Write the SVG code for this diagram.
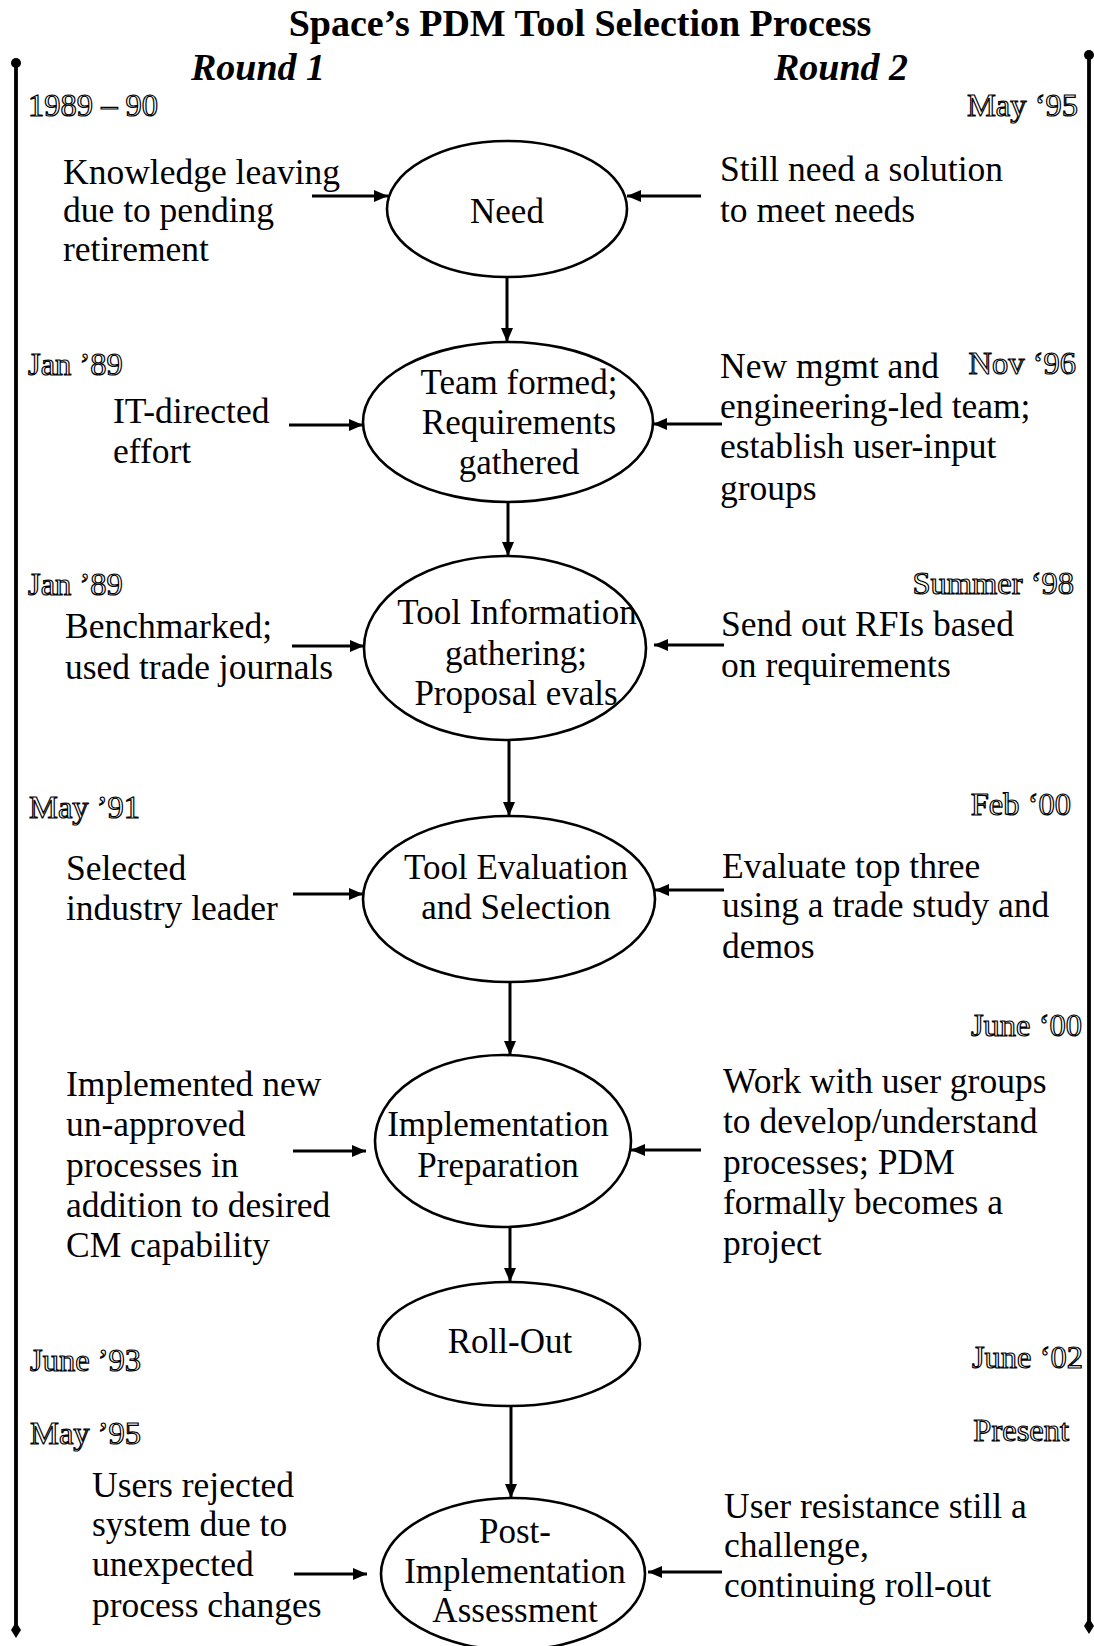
<svg xmlns="http://www.w3.org/2000/svg" width="1094" height="1646" viewBox="0 0 1094 1646">
  <style>
    .t { font-family: "Liberation Serif", "Times New Roman", serif; font-size: 35.5px; fill: #000; }
    .n { font-family: "Liberation Serif", "Times New Roman", serif; font-size: 35px; fill: #000; text-anchor: middle; }
    .title { font-family: "Liberation Serif", "Times New Roman", serif; font-size: 38px; font-weight: bold; text-anchor: middle; }
    .round { font-family: "Liberation Serif", "Times New Roman", serif; font-size: 38px; font-weight: bold; font-style: italic; }
    .date { font-family: "Liberation Serif", "Times New Roman", serif; font-size: 32.5px; fill: #fff; stroke: #000; stroke-width: 1.2; }
    .end { text-anchor: end; }
    .node { fill: #fff; stroke: #000; stroke-width: 2.6; }
    .arrow { fill: none; stroke: #000; stroke-width: 3; marker-end: url(#head); }
    .timeline { stroke: #000; stroke-width: 3.8; fill: none; }
  </style>
  <defs>
    <marker id="head" markerUnits="userSpaceOnUse" viewBox="0 0 14 12" refX="14" refY="6" markerWidth="14" markerHeight="12" orient="auto">
      <path d="M0,0 L14,6 L0,12 z" fill="#000"/>
    </marker>
  </defs>

  <rect width="1094" height="1646" fill="#fff"/>

  <!-- heading -->
  <text class="title" x="580" y="36">Space’s PDM Tool Selection Process</text>
  <text class="round" x="191" y="80">Round 1</text>
  <text class="round" x="774" y="80">Round 2</text>

  <!-- timelines for both rounds -->
  <g id="timelines">
    <line class="timeline" x1="16" y1="63" x2="16" y2="1630"/>
    <circle cx="16" cy="63" r="5"/>
    <path d="M16,1622 L21,1630 L16,1638 L11,1630 z"/>
    <line class="timeline" x1="1089" y1="55" x2="1089" y2="1626"/>
    <circle cx="1089" cy="55" r="5"/>
    <path d="M1089,1618 L1094,1626 L1089,1634 L1084,1626 z"/>
  </g>

  <!-- dates, round 1 -->
  <g id="dates-round1">
    <text class="date" x="28" y="116">1989 – 90</text>
    <text class="date" x="28" y="375">Jan ’89</text>
    <text class="date" x="28" y="595">Jan ’89</text>
    <text class="date" x="29" y="818">May ’91</text>
    <text class="date" x="30" y="1371">June ’93</text>
    <text class="date" x="30" y="1444">May ’95</text>
  </g>

  <!-- dates, round 2 -->
  <g id="dates-round2">
    <text class="date end" x="1078" y="116">May ‘95</text>
    <text class="date end" x="1076" y="374">Nov ‘96</text>
    <text class="date end" x="1074" y="594">Summer ‘98</text>
    <text class="date end" x="1071" y="815">Feb ‘00</text>
    <text class="date end" x="1082" y="1036">June ‘00</text>
    <text class="date end" x="1083" y="1368">June ‘02</text>
    <text class="date end" x="1069" y="1441">Present</text>
  </g>

  <!-- process steps -->
  <g id="node-need">
    <ellipse class="node" cx="507" cy="209" rx="120" ry="68"/>
    <text class="n" x="507" y="223">Need</text>
  </g>
  <g id="node-team">
    <ellipse class="node" cx="508" cy="422" rx="145" ry="80"/>
    <text class="n" x="519" y="394">Team formed;</text>
    <text class="n" x="519" y="434">Requirements</text>
    <text class="n" x="519" y="474">gathered</text>
  </g>
  <g id="node-info">
    <ellipse class="node" cx="505" cy="648" rx="141" ry="92"/>
    <text class="n" x="517" y="624">Tool Information</text>
    <text class="n" x="516" y="665">gathering;</text>
    <text class="n" x="516" y="705">Proposal evals</text>
  </g>
  <g id="node-eval">
    <ellipse class="node" cx="509" cy="899" rx="146" ry="83"/>
    <text class="n" x="516" y="879">Tool Evaluation</text>
    <text class="n" x="516" y="919">and Selection</text>
  </g>
  <g id="node-prep">
    <ellipse class="node" cx="503" cy="1141" rx="128" ry="86"/>
    <text class="n" x="498" y="1136">Implementation</text>
    <text class="n" x="498" y="1177">Preparation</text>
  </g>
  <g id="node-rollout">
    <ellipse class="node" cx="509" cy="1344" rx="131" ry="62"/>
    <text class="n" x="510" y="1353">Roll-Out</text>
  </g>
  <g id="node-post">
    <ellipse class="node" cx="513" cy="1574" rx="132" ry="76"/>
    <text class="n" x="515" y="1543">Post-</text>
    <text class="n" x="515" y="1583">Implementation</text>
    <text class="n" x="515" y="1622">Assessment</text>
  </g>

  <!-- round 1 inputs -->
  <g id="notes-round1">
    <text class="t" x="63" y="184">Knowledge leaving</text>
    <text class="t" x="63" y="222">due to pending</text>
    <text class="t" x="63" y="261">retirement</text>
    <text class="t" x="113" y="423">IT-directed</text>
    <text class="t" x="113" y="463">effort</text>
    <text class="t" x="65" y="638">Benchmarked;</text>
    <text class="t" x="65" y="679">used trade journals</text>
    <text class="t" x="66" y="880">Selected</text>
    <text class="t" x="66" y="920">industry leader</text>
    <text class="t" x="66" y="1096">Implemented new</text>
    <text class="t" x="66" y="1136">un-approved</text>
    <text class="t" x="66" y="1177">processes in</text>
    <text class="t" x="66" y="1217">addition to desired</text>
    <text class="t" x="66" y="1257">CM capability</text>
    <text class="t" x="92" y="1497">Users rejected</text>
    <text class="t" x="92" y="1536">system due to</text>
    <text class="t" x="92" y="1576">unexpected</text>
    <text class="t" x="92" y="1617">process changes</text>
  </g>

  <!-- round 2 inputs -->
  <g id="notes-round2">
    <text class="t" x="720" y="181">Still need a solution</text>
    <text class="t" x="720" y="222">to meet needs</text>
    <text class="t" x="720" y="378">New mgmt and</text>
    <text class="t" x="720" y="418">engineering-led team;</text>
    <text class="t" x="720" y="458">establish user-input</text>
    <text class="t" x="720" y="500">groups</text>
    <text class="t" x="721" y="636">Send out RFIs based</text>
    <text class="t" x="721" y="677">on requirements</text>
    <text class="t" x="722" y="878">Evaluate top three</text>
    <text class="t" x="722" y="917">using a trade study and</text>
    <text class="t" x="722" y="958">demos</text>
    <text class="t" x="723" y="1093">Work with user groups</text>
    <text class="t" x="723" y="1133">to develop/understand</text>
    <text class="t" x="723" y="1174">processes; PDM</text>
    <text class="t" x="723" y="1214">formally becomes a</text>
    <text class="t" x="723" y="1255">project</text>
    <text class="t" x="724" y="1518">User resistance still a</text>
    <text class="t" x="724" y="1557">challenge,</text>
    <text class="t" x="724" y="1597">continuing roll-out</text>
  </g>

  <!-- connectors -->
  <g id="connectors">
    <!-- flow between steps -->
    <line class="arrow" x1="507" y1="277" x2="507" y2="342"/>
    <line class="arrow" x1="508" y1="502" x2="508" y2="556"/>
    <line class="arrow" x1="509" y1="740" x2="509" y2="816"/>
    <line class="arrow" x1="510" y1="982" x2="510" y2="1055"/>
    <line class="arrow" x1="510" y1="1227" x2="510" y2="1282"/>
    <line class="arrow" x1="511" y1="1406" x2="511" y2="1498"/>
    <!-- round 1 inputs -->
    <line class="arrow" x1="312" y1="196" x2="388" y2="196"/>
    <line class="arrow" x1="289" y1="425" x2="363" y2="425"/>
    <line class="arrow" x1="292" y1="646" x2="364" y2="646"/>
    <line class="arrow" x1="293" y1="894" x2="363" y2="894"/>
    <line class="arrow" x1="293" y1="1151" x2="366" y2="1151"/>
    <line class="arrow" x1="294" y1="1574" x2="367" y2="1574"/>
    <!-- round 2 inputs -->
    <line class="arrow" x1="701" y1="196" x2="627" y2="196"/>
    <line class="arrow" x1="722" y1="424" x2="653" y2="424"/>
    <line class="arrow" x1="724" y1="645" x2="654" y2="645"/>
    <line class="arrow" x1="724" y1="890" x2="655" y2="890"/>
    <line class="arrow" x1="701" y1="1150" x2="631" y2="1150"/>
    <line class="arrow" x1="722" y1="1572" x2="648" y2="1572"/>
  </g>
</svg>
